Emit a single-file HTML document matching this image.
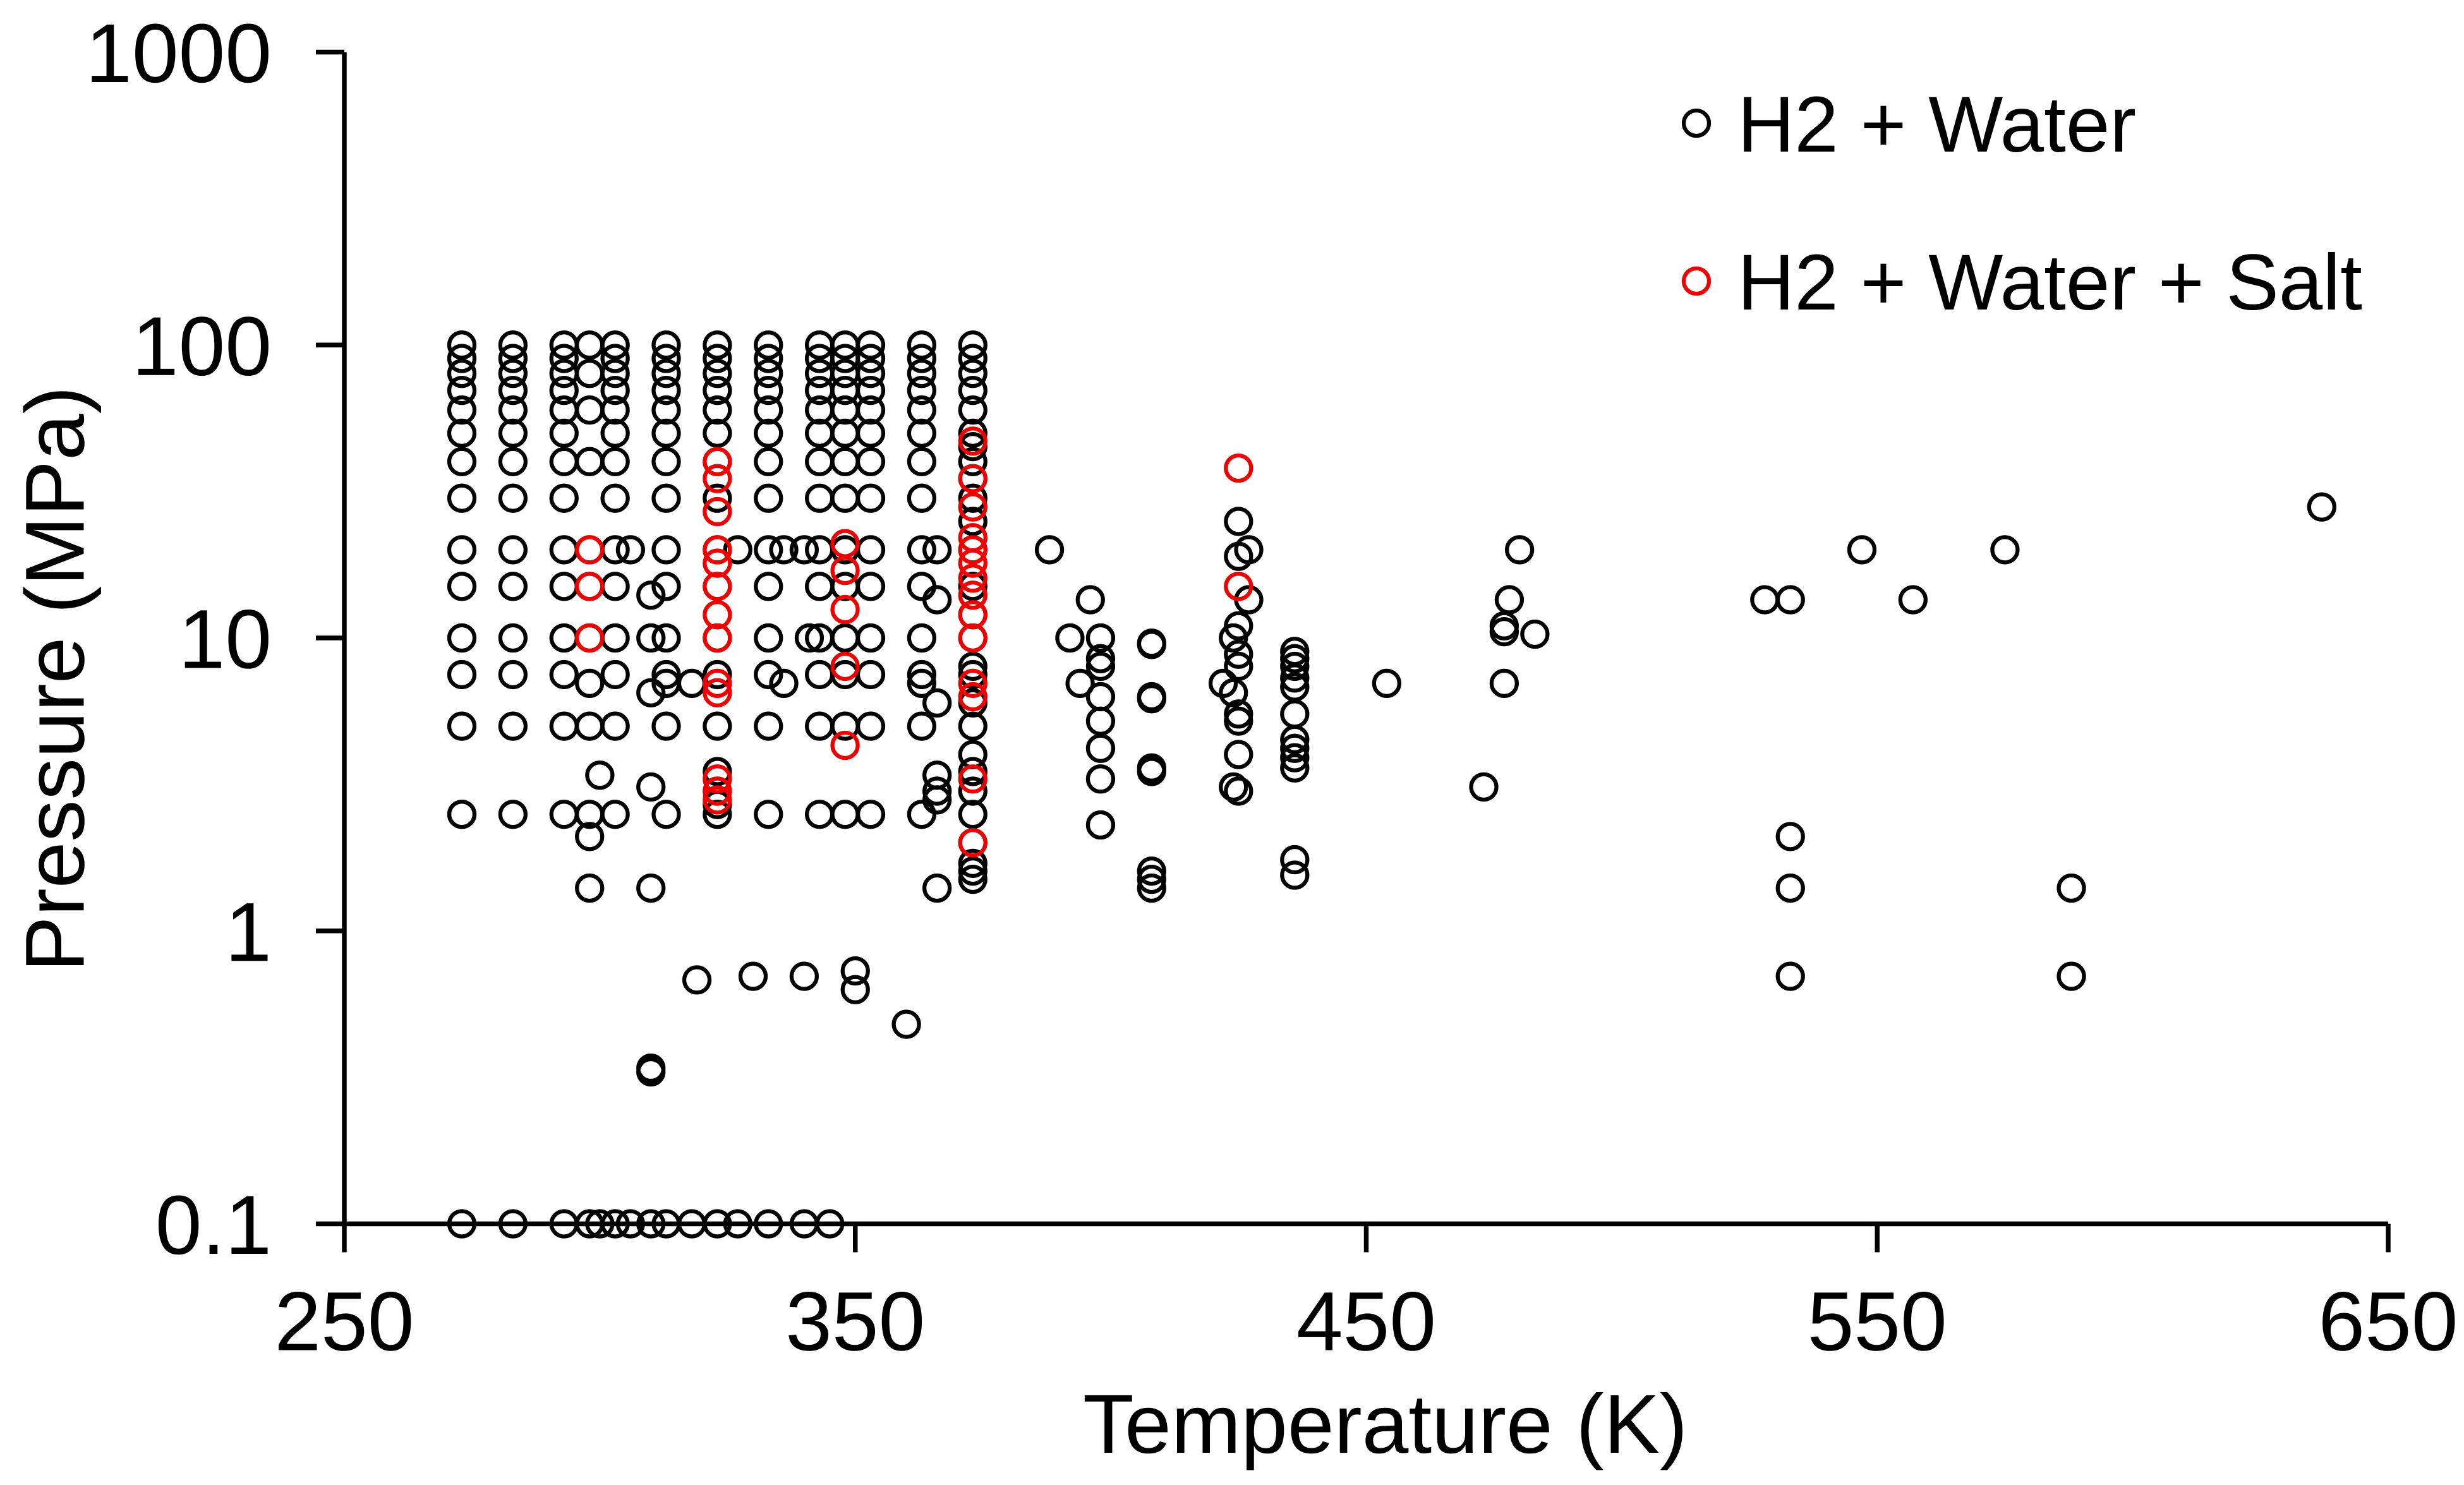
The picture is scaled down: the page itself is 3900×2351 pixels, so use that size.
<!DOCTYPE html>
<html><head><meta charset="utf-8"><style>
html,body{margin:0;padding:0;background:#fff;}
svg{display:block;font-family:"Liberation Sans",Arial,sans-serif;}
</style></head><body>
<svg id="chart" width="3900" height="2351" viewBox="0 0 1560 940.4" xmlns="http://www.w3.org/2000/svg">
<g id="axes"></g>
<g id="marks"></g>
<text x="877" y="920" font-size="53" text-anchor="middle">Temperature (K)</text>
<text transform="translate(53,430) rotate(-90)" font-size="53" text-anchor="middle">Pressure (MPa)</text>
<g>
<circle cx="1074" cy="78" r="8" fill="none" stroke="#000" stroke-width="2.5"/>
<text x="1100" y="96" font-size="50">H2 + Water</text>
<circle cx="1074" cy="178" r="8" fill="none" stroke="#e00" stroke-width="2.5"/>
<text x="1100" y="196" font-size="50">H2 + Water + Salt</text>
</g>
</svg>
<script>
const xTicks=[250,350,450,550,650];
const yTicks=[0.1,1,10,100,1000];
const yTickLabels=["0.1","1","10","100","1000"];
const waterCols=[273,283,293,298,300,303,306,310,313,318,319,323,327,330,333,336,340,341,343,345,348,350,353,360,363,366,373,388,392,394,396,398,408,422,424,425,427,436,454,473,477,478,480,483,528,533,547,557,575,588,637];
const waterColP=[
[2.5,2.5,5,7.5,10,15,20,30,40,50,60,70,80,90,100,0.1],
[2.5,5,7.5,10,15,20,30,40,50,60,70,80,90,100,0.1],
[2.5,5,7.5,10,15,20,30,40,50,60,70,80,90,100,0.1],
[100,80,60,40,20,15,10,7,5,2.5,2.1,1.4,0.1],
[3.4,0.1],
[100,90,80,70,60,50,40,30,20,15,10,7.5,5,2.5,0.1],
[20,0.1],
[14,10,6.5,3.1,1.4,0.34,0.33,0.1],
[2.5,5,7.5,10,15,20,30,40,50,60,70,80,90,100,7,0.1],
[7,0.1],
[0.68],
[2.5,5,7.5,10,15,20,30,40,50,60,70,80,90,100,3.5,3,2.7,0.1],
[20,0.1],
[0.7],
[2.5,5,7.5,10,15,20,30,40,50,60,70,80,90,100,0.1],
[20,7],
[0.7,20,0.1],
[10],
[2.5,5,7.5,10,15,20,30,40,50,60,70,80,90,100],
[0.1],
[2.5,5,7.5,10,15,20,30,40,50,60,70,80,90,100],
[0.73,0.63],
[2.5,5,7.5,10,15,20,30,40,50,60,70,80,90,100],
[0.48],
[2.5,5,7.5,10,15,20,30,40,50,60,70,80,90,100,7],
[20,13.5,6,3.4,3,2.8,1.4],
[2.5,5,7.5,10,15,20,30,40,50,60,70,80,90,100,45,35,25,12,8,6,4,3.5,3,2,1.7,1.6,1.5],
[20],[10],[7],[13.5],
[10,8.5,8,6.3,5.2,4.2,3.3,2.3],
[9.6,9.5,6.3,6.2,3.6,3.5,1.6,1.5,1.4],
[7],
[10,6.5,3.1],
[25,19,11,8.8,8,5.5,5.2,4,3],
[20,13.5],
[9,8.5,8,7.3,6.8,5.5,4.5,4.2,3.9,3.6,1.75,1.55],
[7],[3.1],[11,10.5,7],[13.5],[20],[10.3],[13.5],
[13.5,2.1,1.4,0.7],
[20],[13.5],[20],[1.4,0.7],[28]
];
const saltCols=[298,323,348,373,425];
const saltColP=[
[20,15,10],
[40,35,27,20,18,15,12,10,7,6.5,3.3,3,2.8],
[21,17,12.5,8,4.3],
[47,35,28,22,20,18,16,14,12,10,7,6.3,3.3,2],
[38,15]
];
const NS="http://www.w3.org/2000/svg";
const X=t=>218+(t-250)*(1512-218)/400;
const Y=p=>33+(3-Math.log10(p))*(775-33)/4;
function mk(tag,attrs,parent){const e=document.createElementNS(NS,tag);for(const k in attrs)e.setAttribute(k,attrs[k]);parent.appendChild(e);return e;}
const axes=document.getElementById('axes'), marks=document.getElementById('marks');
let e=mk('line',{x1:218,y1:33,x2:218,y2:775,stroke:'#000','stroke-width':3},axes);


e=mk('line',{x1:218,y1:775,x2:1512,y2:775,stroke:'#000','stroke-width':3},axes);


yTicks.forEach((v,i)=>{
  let t=mk('line',{x1:200,y1:Y(v),x2:218,y2:Y(v),stroke:'#000','stroke-width':3},axes);
  
  
  let l=mk('text',{x:172,y:Y(v)+19,'font-size':53,'text-anchor':'end'},axes);
  l.textContent=yTickLabels[i];
  
  
});
xTicks.forEach(v=>{
  let t=mk('line',{x1:X(v),y1:775,x2:X(v),y2:793,stroke:'#000','stroke-width':3},axes);
  
  
  let l=mk('text',{x:X(v),y:855,'font-size':53,'text-anchor':'middle'},axes);
  l.textContent=String(v);
  
  
});
function plot(cols,colP,color,name){
  cols.forEach((t,i)=>colP[i].forEach(p=>{
    const c=mk('circle',{cx:X(t),cy:Y(p),r:8,fill:'none',stroke:color,'stroke-width':2.5},marks);
    
    
  }));
}
plot(waterCols,waterColP,'#000','water-point');
plot(saltCols,saltColP,'#e00','salt-point');
</script>
</body></html>
